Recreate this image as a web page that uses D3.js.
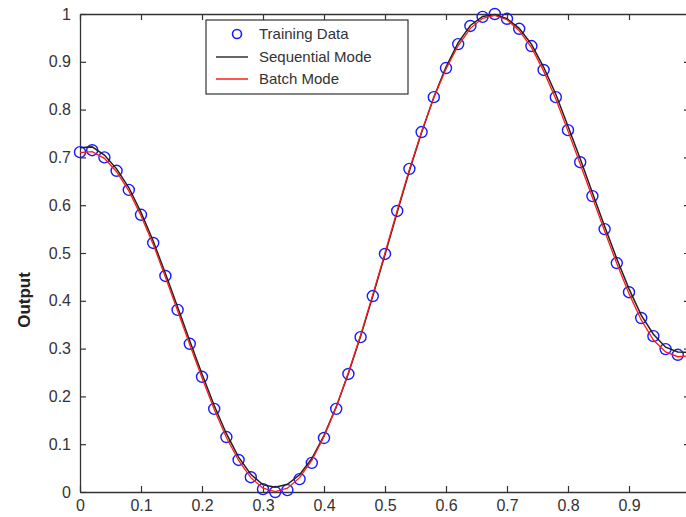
<!DOCTYPE html>
<html>
<head>
<meta charset="utf-8">
<script src="https://cdn.jsdelivr.net/npm/d3@7"></script>
<style>
  body { margin: 0; background: #fff; }
  text { font-family: Arial, "Liberation Sans", sans-serif; }
</style>
</head>
<body>
<div id="chart"></div>
<script>
// training inputs and targets
var trainX = [0, 0.02, 0.04, 0.06, 0.08, 0.10, 0.12, 0.14, 0.16, 0.18,
              0.20, 0.22, 0.24, 0.26, 0.28, 0.30, 0.32, 0.34, 0.36, 0.38,
              0.40, 0.42, 0.44, 0.46, 0.48, 0.50, 0.52, 0.54, 0.56, 0.58,
              0.60, 0.62, 0.64, 0.66, 0.68, 0.70, 0.72, 0.74, 0.76, 0.78,
              0.80, 0.82, 0.84, 0.86, 0.88, 0.90, 0.92, 0.94, 0.96, 0.98];
var trainY = [0.711, 0.715, 0.700, 0.672, 0.632, 0.580, 0.521, 0.452, 0.381, 0.310,
              0.241, 0.174, 0.115, 0.067, 0.031, 0.006, 0.000, 0.004, 0.027, 0.061,
              0.113, 0.174, 0.247, 0.324, 0.410, 0.498, 0.588, 0.676, 0.753, 0.826,
              0.887, 0.937, 0.975, 0.994, 1.000, 0.990, 0.969, 0.933, 0.883, 0.826,
              0.757, 0.690, 0.619, 0.550, 0.479, 0.418, 0.364, 0.326, 0.299, 0.287];

// network outputs
var outX = trainX.concat([1.0]);
var sequential = [0.720, 0.722, 0.705, 0.676, 0.637, 0.585, 0.525, 0.457, 0.387, 0.316,
                  0.247, 0.181, 0.122, 0.073, 0.037, 0.015, 0.010, 0.016, 0.036, 0.070,
                  0.118, 0.178, 0.248, 0.326, 0.410, 0.497, 0.585, 0.672, 0.752, 0.826,
                  0.889, 0.940, 0.976, 0.995, 0.999, 0.990, 0.970, 0.937, 0.889, 0.832,
                  0.765, 0.697, 0.626, 0.556, 0.488, 0.425, 0.370, 0.330, 0.303, 0.293, 0.292];
var batch = [0.710, 0.712, 0.698, 0.670, 0.630, 0.578, 0.518, 0.450, 0.379, 0.308,
             0.239, 0.173, 0.114, 0.066, 0.030, 0.008, 0.001, 0.008, 0.030, 0.066,
             0.116, 0.178, 0.250, 0.328, 0.413, 0.500, 0.589, 0.675, 0.754, 0.825,
             0.885, 0.934, 0.970, 0.991, 0.997, 0.988, 0.965, 0.930, 0.881, 0.822,
             0.755, 0.686, 0.616, 0.546, 0.478, 0.415, 0.360, 0.318, 0.293, 0.283, 0.285];

var xTicks = [0, 0.1, 0.2, 0.3, 0.4, 0.5, 0.6, 0.7, 0.8, 0.9];
var yTicks = [0, 0.1, 0.2, 0.3, 0.4, 0.5, 0.6, 0.7, 0.8, 0.9, 1];
var legendNames = ["Training Data", "Sequential Mode", "Batch Mode"];

width = 686;
height = 517;
plotLeft = 80;
plotRight = 690;
plotTop = 14;
plotBottom = 492;

xscale = d3.scaleLinear().domain([0, 1]).range([plotLeft, plotRight]);
yscale = d3.scaleLinear().domain([0, 1]).range([plotBottom, plotTop]);

var svg = d3.select("#chart").append("svg")
    .attr("width", width)
    .attr("height", height);

var fmt = d3.format("~g");

// bottom axis, ticks point inward
var xAxis = svg.append("g")
    .attr("transform", "translate(0," + plotBottom + ")")
    .call(d3.axisBottom(xscale).tickValues(xTicks).tickFormat(fmt)
        .tickSizeInner(-6).tickSizeOuter(0).tickPadding(8));

// top axis (ticks only)
var topAxis = svg.append("g")
    .attr("transform", "translate(0," + plotTop + ")")
    .call(d3.axisTop(xscale).tickValues(xTicks).tickFormat("")
        .tickSizeInner(-6).tickSizeOuter(0));

// left axis
var yAxis = svg.append("g")
    .attr("transform", "translate(" + plotLeft + ",0)")
    .call(d3.axisLeft(yscale).tickValues(yTicks).tickFormat(fmt)
        .tickSizeInner(-6).tickSizeOuter(0).tickPadding(9));

// right axis (ticks only)
var rightAxis = svg.append("g")
    .attr("transform", "translate(" + plotRight + ",0)")
    .call(d3.axisRight(yscale).tickValues(yTicks).tickFormat("")
        .tickSizeInner(-6).tickSizeOuter(0));

svg.selectAll(".domain").attr("stroke", "#333").attr("stroke-width", 1.3);
svg.selectAll(".tick line").attr("stroke", "#333").attr("stroke-width", 1.2);
svg.selectAll(".tick text")
    .attr("font-size", "16px")
    .attr("fill", "#333")
    .style("font-family", "Arial, 'Liberation Sans', sans-serif");

// y label
svg.append("text")
    .attr("transform", "translate(30,300) rotate(-90)")
    .attr("text-anchor", "middle")
    .attr("font-size", "17px")
    .attr("font-weight", "bold")
    .attr("fill", "#222")
    .text("Output");

// training data circles
svg.append("g").selectAll("circle")
    .data(trainX)
    .join("circle")
      .attr("cx", function(d) { return xscale(d); })
      .attr("cy", function(d, i) { return yscale(trainY[i]); })
      .attr("r", 5.5)
      .attr("fill", "none")
      .attr("stroke", "#1a1aff")
      .attr("stroke-width", 1.4);

var line = d3.line()
    .x(function(d, i) { return xscale(outX[i]); })
    .y(function(d) { return yscale(d); });

svg.append("path")
    .datum(sequential)
    .attr("d", line)
    .attr("fill", "none")
    .attr("stroke", "#222")
    .attr("stroke-width", 1.5);

svg.append("path")
    .datum(batch)
    .attr("d", line)
    .attr("fill", "none")
    .attr("stroke", "#ff1a1a")
    .attr("stroke-width", 1.3);

// legend
var lg = svg.append("g");
lg.append("rect")
    .attr("x", 206).attr("y", 20)
    .attr("width", 202).attr("height", 74)
    .attr("fill", "#fff")
    .attr("stroke", "#333")
    .attr("stroke-width", 1.2);

var rowY = [34, 57, 79];
lg.append("circle")
    .attr("cx", 237).attr("cy", rowY[0]).attr("r", 4.5)
    .attr("fill", "none").attr("stroke", "#1a1aff").attr("stroke-width", 1.6);
lg.append("line")
    .attr("x1", 216).attr("x2", 248).attr("y1", rowY[1]).attr("y2", rowY[1])
    .attr("stroke", "#333").attr("stroke-width", 1.5);
lg.append("line")
    .attr("x1", 216).attr("x2", 248).attr("y1", rowY[2]).attr("y2", rowY[2])
    .attr("stroke", "#ff1a1a").attr("stroke-width", 1.5);

lg.selectAll("text.leg")
    .data(legendNames)
    .join("text")
      .attr("class", "leg")
      .attr("x", 259)
      .attr("y", function(d, i) { return rowY[i] + 5; })
      .attr("font-size", "15px")
      .attr("fill", "#333")
      .text(function(d) { return d; });
</script>
</body>
</html>
